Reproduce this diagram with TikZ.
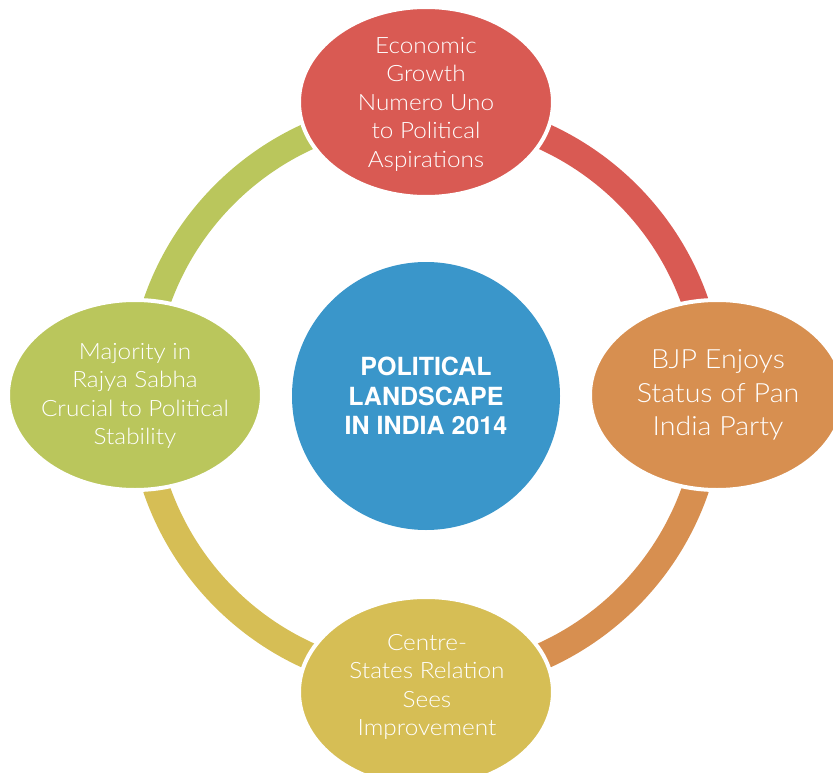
\documentclass[tikz,border=0pt]{standalone}
\usepackage{fontspec}
\setmainfont{TeX Gyre Heros}
\IfFontExistsTF{Lato Light}{\newfontfamily\lightfont[FakeStretch=1.08]{Lato Light}}{\newfontfamily\lightfont{TeX Gyre Heros}}
\usetikzlibrary{shapes.geometric}
\definecolor{cRed}{HTML}{D95A53}
\definecolor{cOrange}{HTML}{D78F50}
\definecolor{cYellow}{HTML}{D6BE55}
\definecolor{cGreen}{HTML}{BAC65C}
\definecolor{cBlue}{HTML}{3A96CA}
\tikzset{
  ring/.style={line width=27pt},
  bubble/.style={ellipse, draw=white, line width=4pt, minimum width=254pt, minimum height=190pt, inner sep=0pt},
  hub/.style={circle, fill=cBlue, minimum size=268pt, inner sep=0pt},
  ltxt/.style={align=center, text=white, inner sep=0pt, font=\lightfont\fontsize{22.5}{28.5}\selectfont},
  btxt/.style={align=center, text=white, inner sep=0pt, font=\bfseries\fontsize{25}{29.5}\selectfont}
}
\begin{document}
\begin{tikzpicture}[x=1pt,y=-1pt]
\useasboundingbox (0,0) rectangle (833,773);
\coordinate (c) at (426,396);
\draw[ring, cRed]    ([shift={(-90:285)}]c) arc[start angle=-90, end angle=0, radius=285];
\draw[ring, cOrange] ([shift={(0:285)}]c) arc[start angle=0, end angle=90, radius=285];
\draw[ring, cYellow] ([shift={(90:285)}]c) arc[start angle=90, end angle=180, radius=285];
\draw[ring, cGreen]  ([shift={(180:285)}]c) arc[start angle=180, end angle=270, radius=285];
\node[hub] (hub) at (c) {};
\node[bubble, fill=cRed]    (top)    at (426,102) {};
\node[bubble, fill=cOrange] (right)  at (717,395) {};
\node[bubble, fill=cYellow] (bottom) at (426,692) {};
\node[bubble, fill=cGreen]  (left)   at (135,395) {};
\node[btxt] (hubtext) at (426,396) {POLITICAL\\LANDSCAPE\\IN INDIA 2014};
\node[ltxt] (toptext) at (426,104) {Economic\\Growth\\Numero Uno\\to Political\\Aspirations};
\node[ltxt, font=\lightfont\fontsize{26.5}{33.3}\selectfont] (righttext) at (718,395) {BJP Enjoys\\Status of Pan\\India Party};
\node[ltxt] (bottomtext) at (427,687) {Centre-\\States Relation\\Sees\\Improvement};
\node[ltxt] (lefttext) at (135,396) {Majority in\\Rajya Sabha\\Crucial to Political\\Stability};
\end{tikzpicture}
\end{document}
